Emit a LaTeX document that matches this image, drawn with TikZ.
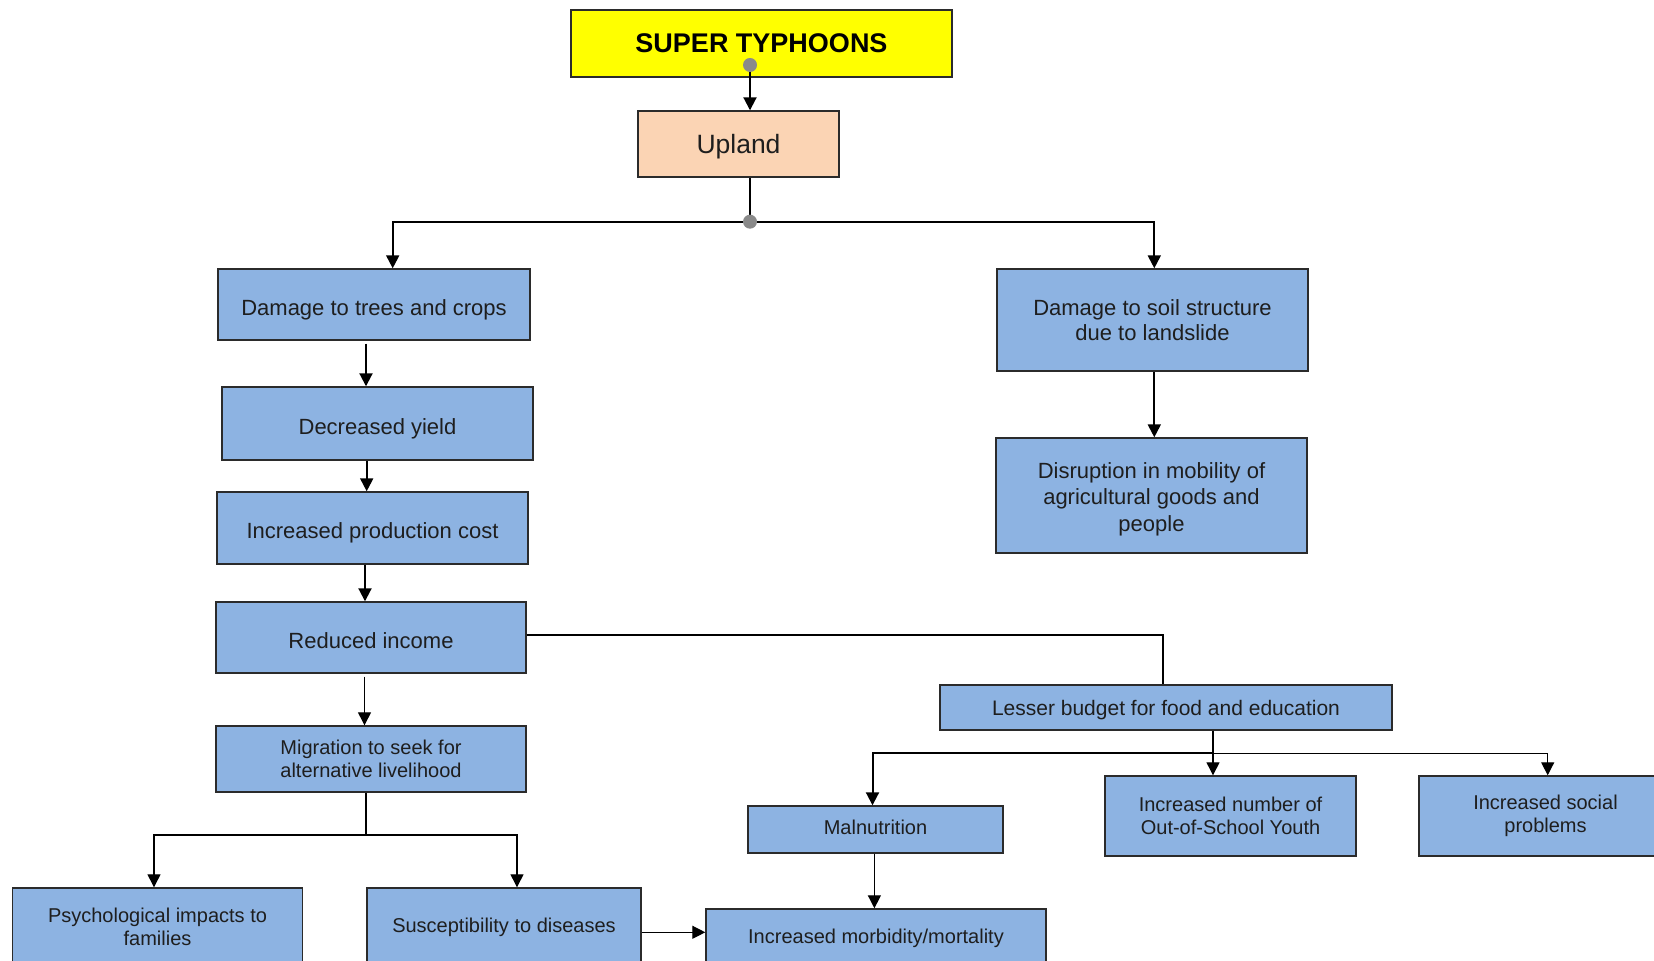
\documentclass[tikz,border=0pt]{standalone}
\usepackage{fontspec}
\setmainfont{Liberation Sans}
\usetikzlibrary{arrows.meta}
\definecolor{boxblue}{HTML}{8DB3E2}
\definecolor{boxpeach}{HTML}{FBD4B4}
\definecolor{boxyellow}{HTML}{FFFF00}
\definecolor{boxline}{HTML}{2B2B2B}
\definecolor{textdark}{HTML}{1E1E1E}
\definecolor{dotgray}{HTML}{8A8A8A}
\begin{document}
\begin{tikzpicture}[x=0.5pt,y=-0.5pt,
  box/.style={draw=boxline, line width=0.7pt, fill=boxblue, inner sep=0pt,
    align=center, text=textdark},
  big/.style={font=\fontsize{11}{12.6}\selectfont},
  oneline/.style={big, text height=11pt, text depth=0pt},
  small/.style={font=\fontsize{10}{11.8}\selectfont},
  conn/.style={line width=1pt, draw=black},
  thin/.style={line width=0.65pt, draw=black},
  arr/.style={-{Triangle[length=6.5pt,width=6.5pt]}},
  dot/.style={circle, fill=dotgray, draw=none, minimum size=7pt, inner sep=0pt}]

\clip (0,0) rectangle (1654,961);
\fill[white] (0,0) rectangle (1654,961);

% top of the chart
\node[box, fill=boxyellow, minimum width=190.5pt, minimum height=33.5pt,
  font=\fontsize{13.5}{15}\selectfont\bfseries, text=black]
  (typhoon) at (761.5,43.5) {SUPER TYPHOONS};
\node[box, fill=boxpeach, minimum width=100.5pt, minimum height=33pt,
  font=\fontsize{13.25}{15}\selectfont, text height=10pt, text depth=0.2pt]
  (upland) at (738.5,144) {Upland};

% left branch
\node[box, oneline, minimum width=156pt, minimum height=35.5pt] (trees) at (374,304.5) {Damage to trees and crops};
\node[box, oneline, minimum width=155.5pt, minimum height=36.5pt] (yield) at (377.5,423.5) {Decreased yield};
\node[box, oneline, minimum width=155.5pt, minimum height=36pt] (cost) at (372.5,528) {Increased production cost};
\node[box, oneline, minimum width=155pt, minimum height=35.5pt] (income) at (371,637.5) {Reduced income};
\node[box, small, minimum width=155pt, minimum height=33pt] (migration) at (371,759) {Migration to seek for\\alternative livelihood};
\node[box, small, minimum width=145pt, minimum height=39pt] (psych) at (157.5,927) {Psychological impacts to\\families};
\node[box, small, minimum width=137pt, minimum height=39pt] (suscept) at (504,927) {Susceptibility to diseases};

% right branch
\node[box, big, minimum width=155.5pt, minimum height=51pt] (soil) at (1152.5,320) {Damage to soil structure\\due to landslide};
\node[box, minimum width=155.5pt, minimum height=57.5pt, font=\fontsize{11}{13.2}\selectfont] (disrupt) at (1151.5,495.5) {\raisebox{-1.8pt}[\height][\depth]{\parbox{150pt}{\centering Disruption in mobility of\\agricultural goods and\\people}}};

% household consequences
\node[box, minimum width=226pt, minimum height=22.5pt, font=\fontsize{10.5}{12}\selectfont, text height=8.4pt, text depth=0pt] (lesser) at (1166,707.5) {Lesser budget for food and education};
\node[box, small, minimum width=127.5pt, minimum height=23.5pt, text height=7.2pt, text depth=2pt] (malnut) at (875.5,829.5) {Malnutrition};
\node[box, small, minimum width=125.5pt, minimum height=40pt] (oosy) at (1230.5,816) {Increased number of\\Out-of-School Youth};
\node[box, small, minimum width=126.5pt, minimum height=40pt] (social) at (1545.5,816) {Increased social\\problems};
\node[box, small, minimum width=170pt, minimum height=29.5pt] (morbid) at (876,938.5) {Increased morbidity/mortality};

% junction points
\coordinate (d1) at (750,65);
\coordinate (d2) at (750,221.7);
\coordinate (jm) at (366,835);
\coordinate (jl) at (1213,753.3);

% upper connectors
\draw[conn, arr] (d1) -- (d1 |- upland.north);
\draw[conn] (d2 |- upland.south) -- (d2);
\draw[conn, arr] (d2) -| ([xshift=9.35pt]trees.north);
\draw[conn, arr] (d2) -| ([xshift=0.9pt]soil.north);
\draw[conn, arr] ([xshift=-4pt,yshift=-1.5pt]trees.south) -- ([xshift=-4pt]trees.south |- yield.north);
\draw[conn, arr] ([xshift=-5.4pt]yield.south) -- ([xshift=-5.4pt]yield.south |- cost.north);
\draw[conn, arr] ([xshift=-3.75pt]cost.south) -- ([xshift=-3.75pt]cost.south |- income.north);
\draw[conn, arr] ([xshift=0.9pt]soil.south) -- ([xshift=0.9pt]soil.south |- disrupt.north);

% lower connectors
\draw[thin, arr] ([xshift=-3.25pt,yshift=-1.5pt]income.south) -- ([xshift=-3.25pt]income.south |- migration.north);
\draw[thin] ([yshift=1.25pt]income.east) -| ([xshift=-1.5pt]lesser.north);
\draw[thin] (jm |- migration.south) -- (jm);
\draw[thin, arr] (jm) -| ([xshift=-1.75pt]psych.north);
\draw[thin, arr] (jm) -| ([xshift=6.5pt]suscept.north);
\draw[thin, arr] ([yshift=-2.65pt]suscept.east) -- ([yshift=-2.65pt]suscept.east -| morbid.west);
\draw[thin] (jl |- lesser.south) -- (jl);
\draw[thin, arr] (jl) -- (jl |- oosy.north);
\draw[thin, arr] (jl) -| ([xshift=1.1pt]social.north);
\draw[conn, arr] (jl) -| ([xshift=-1.5pt]malnut.north);
\draw[thin, arr] ([xshift=-0.55pt]malnut.south) -- ([xshift=-0.55pt]malnut.south |- morbid.north);

% junction dots
\node[dot] at (d1) {};
\node[dot] at (d2) {};
\end{tikzpicture}
\end{document}
